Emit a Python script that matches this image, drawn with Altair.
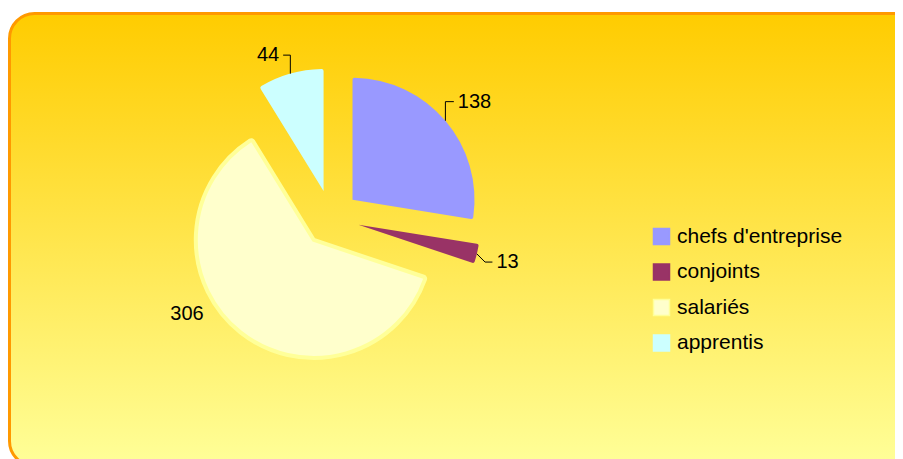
import altair as alt
import pandas as pd

# ---- data ----
categories = ["chefs d'entreprise", "conjoints", "salariés", "apprentis"]
values = [138, 13, 306, 44]
fill_colors = ["#9999FF", "#993366", "#FFFFCC", "#CCFFFF"]
stroke_colors = ["#9999FF", "#993366", "#FFFF99", "#CCFFFF"]

df = pd.DataFrame({"cat": categories, "value": values, "order": list(range(len(categories)))})

# ---- layout constants (pixels, chart coordinates) ----
W, H = 887, 451
CX, CY = 323.2, 210.0   # pie centre
D = 28                  # explosion distance
R = 122                 # outer radius
FONT = "Liberation Sans, Arial, sans-serif"

# label placement tweaks (radians / pixels), mimicking the spreadsheet's "best fit"
label_nudge = {"chefs d'entreprise": -0.045, "conjoints": 0.023, "salariés": 0.305, "apprentis": -0.04}
label_radius = {"chefs d'entreprise": 144, "conjoints": 143, "salariés": 133, "apprentis": 143}
nudge_expr = " : ".join(f"datum.cat === \"{k}\" ? {v}" for k, v in label_nudge.items()) + " : 0"
rad_expr = " : ".join(f"datum.cat === \"{k}\" ? {v}" for k, v in label_radius.items()) + " : 143"

base = (
    alt.Chart(df)
    .transform_joinaggregate(total="sum(value)")
    .transform_window(cum="sum(value)", sort=[alt.SortField("order")], frame=[None, 0])
    .transform_calculate(
        t1="datum.cum / datum.total * 2 * PI",
        t0="(datum.cum - datum.value) / datum.total * 2 * PI",
    )
    .transform_calculate(
        mid="(datum.t0 + datum.t1) / 2",
        isSal="datum.cat === 'salariés'",
    )
    .transform_calculate(
        ax=f"{CX} + {D} * sin(datum.mid)",
        ay=f"{CY} - {D} * cos(datum.mid)",
        rr=f"datum.isSal ? {R - 4} : {R}",
        la=f"datum.mid + ({nudge_expr})",
        lr=rad_expr,
    )
    .transform_calculate(
        ex=f"datum.ax + {R} * sin(datum.mid)",
        ey=f"datum.ay - {R} * cos(datum.mid)",
        lx="datum.ax + datum.lr * sin(datum.la)",
        ly="datum.ay - datum.lr * cos(datum.la)",
        side="sin(datum.la) >= 0 ? 1 : -1",
    )
    .transform_calculate(
        lend="datum.lx - datum.side * 4",
        kx="datum.ex + datum.side * (abs(datum.ly - datum.ey) < 10 ? abs(datum.ly - datum.ey) : 0)",
    )
)

bg = alt.Chart(pd.DataFrame({"k": [0]})).mark_rect(
    cornerRadius=25,
    stroke="#FF9900",
    strokeWidth=3,
    color=alt.Gradient(
        gradient="linear",
        stops=[
            alt.GradientStop(color="#FFCC00", offset=0),
            alt.GradientStop(color="#FFFF99", offset=1),
        ],
        x1=0, x2=0, y1=0, y2=1,
    ),
).encode(
    x=alt.value(1.5), x2=alt.value(1000), y=alt.value(5.5), y2=alt.value(458)
)

arcs = base.mark_arc(cornerRadius=2).encode(
    x=alt.X("ax:Q", scale=None, axis=None),
    y=alt.Y("ay:Q", scale=None, axis=None),
    theta=alt.Theta("t0:Q", scale=None, stack=None),
    theta2=alt.Theta2("t1"),
    radius=alt.Radius("rr:Q", scale=None),
    fill=alt.Fill(
        "cat:N",
        scale=alt.Scale(domain=categories, range=fill_colors),
        legend=alt.Legend(title=None),
    ),
    stroke=alt.Stroke(
        "cat:N",
        scale=alt.Scale(domain=categories, range=stroke_colors),
        legend=alt.Legend(title=None),
    ),
    strokeWidth=alt.condition("datum.isSal", alt.value(4), alt.value(0)),
)

leaders = base.transform_filter("!datum.isSal")
lead1 = leaders.mark_rule(color="#000000", strokeWidth=1).encode(
    x=alt.X("ex:Q", scale=None, axis=None),
    y=alt.Y("ey:Q", scale=None, axis=None),
    x2="kx:Q",
    y2="ly:Q",
)
lead2 = leaders.mark_rule(color="#000000", strokeWidth=1).encode(
    x=alt.X("kx:Q", scale=None, axis=None),
    y=alt.Y("ly:Q", scale=None, axis=None),
    x2="lend:Q",
    y2="ly:Q",
)

txt_right = base.transform_filter("datum.side > 0").mark_text(
    align="left", baseline="middle", font=FONT, fontSize=20, color="#000000"
).encode(
    x=alt.X("lx:Q", scale=None, axis=None),
    y=alt.Y("ly:Q", scale=None, axis=None),
    text=alt.Text("value:Q"),
)
txt_left = base.transform_filter("datum.side < 0").mark_text(
    align="right", baseline="middle", font=FONT, fontSize=20, color="#000000"
).encode(
    x=alt.X("lx:Q", scale=None, axis=None),
    y=alt.Y("ly:Q", scale=None, axis=None),
    text=alt.Text("value:Q"),
)

chart = (
    alt.layer(bg, arcs, lead1, lead2, txt_right, txt_left)
    .properties(width=W, height=H, autosize=alt.AutoSizeParams(type="none"), padding=0)
    .configure_view(stroke=None)
    .configure_legend(
        orient="none",
        legendX=643,
        legendY=218,
        symbolType="square",
        symbolSize=256,
        symbolStrokeWidth=1.5,
        labelFont=FONT,
        labelFontSize=21,
        labelLimit=400,
        labelColor="#000000",
        labelOffset=5,
        rowPadding=12.5,
        padding=0,
    )
)

chart.save("out.html", embed_options={"renderer": "svg", "actions": False})
